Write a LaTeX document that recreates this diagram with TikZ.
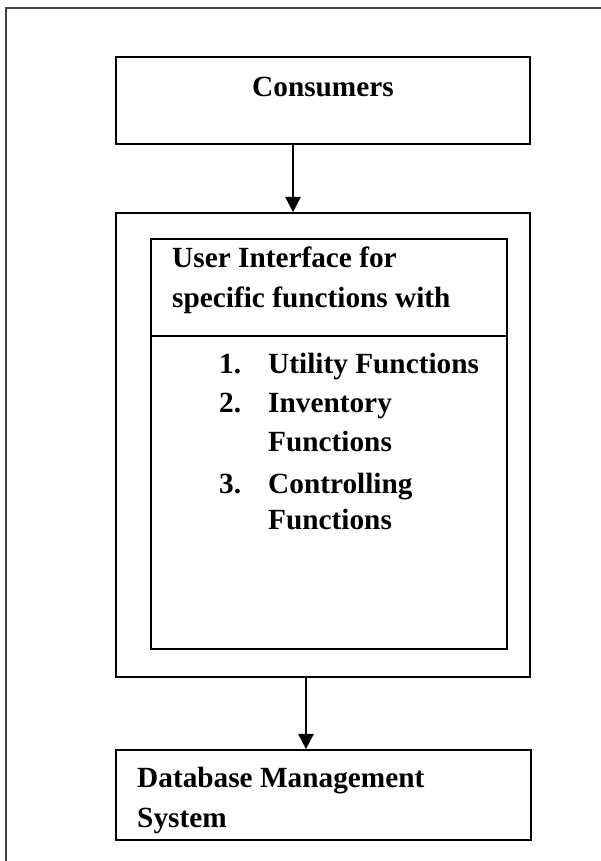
\documentclass[tikz,border=0pt]{standalone}
\usepackage{fontspec}
\setmainfont{Liberation Serif}
\usetikzlibrary{arrows.meta,fit}

\tikzset{
  box/.style={draw, line width=1.5pt, inner sep=0pt},
  txt/.style={font=\fontsize{25}{33}\selectfont\bfseries, inner sep=0pt, anchor=base west},
  arr/.style={line width=1.6pt, -{Triangle[width=13pt,length=13pt]}}
}

\begin{document}
\begin{tikzpicture}[x=0.03cm, y=-0.03cm]
\useasboundingbox (0,0) rectangle (601,861);
% page frame, runs off at right and bottom
\draw[line width=1.5pt, black!75] (6,861) -- (6,8) -- (601,8);

% consumers
\node[box, fit={(116,57) (530,144)}] (cons) {};
\node[txt, anchor=base] (consT) at (323,96) {Consumers};

% user interface, double frame
\node[box, fit={(116,213) (530,677)}] (ui) {};
\node[box, fit={(151,239) (507,649)}] (uiIn) {};
\coordinate (split) at (151,336);
\draw[line width=1.5pt] (split) -- (split -| uiIn.east);
\node[txt] (uiT1) at (172,267) {User Interface for};
\node[txt] (uiT2) at (172,307) {specific functions with};
\foreach \n/\t/\y in {1./Utility Functions/373, 2./Inventory/412, /Functions/451,
                      3./Controlling/493, /Functions/529}{
  \node[txt] (num\y) at (219,\y) {\n};
  \node[txt] (item\y) at (268,\y) {\t};
}

% database
\node[box, fit={(116,750) (531,840)}] (db) {};
\node[txt] (dbT1) at (137,787) {Database Management};
\node[txt] (dbT2) at (137,827) {System};

% arrows
\coordinate (a1) at (293,0);
\coordinate (a2) at (306,0);
\draw[arr] (cons.south -| a1) -- (ui.north -| a1);
\draw[arr] (ui.south -| a2) -- (db.north -| a2);
\end{tikzpicture}
\end{document}
